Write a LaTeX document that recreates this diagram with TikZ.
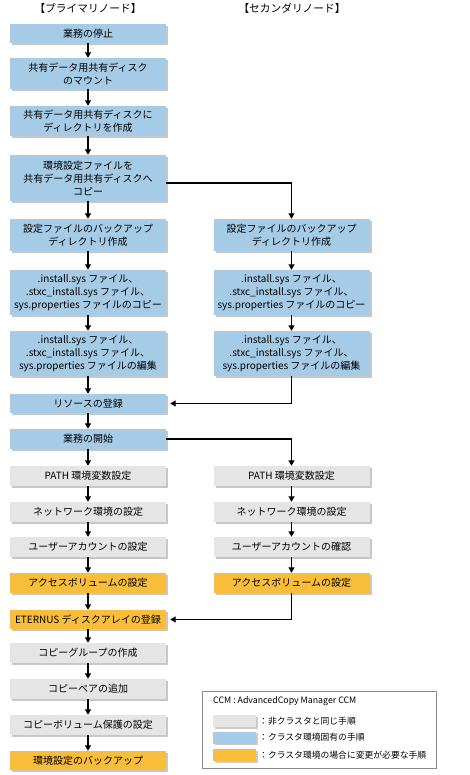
\documentclass[tikz,border=0pt]{standalone}
\usepackage{fontspec}
\setmainfont{Noto Sans CJK JP}
\usetikzlibrary{arrows.meta,shadows}
\definecolor{stepblue}{HTML}{A5CBE6}
\definecolor{steporange}{HTML}{F9BD3C}
\definecolor{stepgray}{HTML}{E5E5E5}
\definecolor{legendframe}{HTML}{8A8A8A}
\tikzset{
  stepbox/.style={minimum width=156pt, inner sep=0pt, align=center,
    font=\fontsize{10pt}{13pt}\selectfont,
    drop shadow={shadow xshift=2pt, shadow yshift=-2pt, fill=black, opacity=0.22}},
  bluebox/.style={stepbox, fill=stepblue},
  graybox/.style={stepbox, fill=stepgray},
  orangebox/.style={stepbox, fill=steporange},
  flow/.style={line width=1.2pt, -{Triangle[width=6pt,length=5.5pt]}},
  hdr/.style={font=\fontsize{10.7pt}{12pt}\selectfont},
  swatch/.style={minimum width=43pt, minimum height=12pt, inner sep=0pt,
    drop shadow={shadow xshift=1.5pt, shadow yshift=-1.5pt, fill=black, opacity=0.2}},
  legtext/.style={anchor=west, inner sep=0pt, font=\fontsize{8.8pt}{10pt}\selectfont}
}
\begin{document}
\begin{tikzpicture}[x=1pt,y=-1pt]
\useasboundingbox (0,0) rectangle (469,775);
\node[hdr] (h1) at (88,8) {【プライマリノード】};
\node[hdr] (h2) at (292,8) {【セカンダリノード】};

\node[bluebox, minimum height=19pt] (b1) at (88,33.5) {業務の停止};
\node[bluebox, minimum height=31pt] (b2) at (88,73.5) {共有データ用共有ディスク\\のマウント};
\node[bluebox, minimum height=30pt] (b3) at (88,121) {共有データ用共有ディスクに\\ディレクトリを作成};
\node[bluebox, minimum height=46pt] (b4) at (88,178) {環境設定ファイルを\\共有データ用共有ディスクへ\\コピー};
\node[bluebox, minimum height=32pt] (b5) at (88,235) {設定ファイルのバックアップ\\ディレクトリ作成};
\node[bluebox, minimum height=45pt] (b6) at (88,292.5) {.install.sys ファイル、\\.stxc\_install.sys ファイル、\\sys.properties ファイルのコピー};
\node[bluebox, minimum height=45pt] (b7) at (88,353.5) {.install.sys ファイル、\\.stxc\_install.sys ファイル、\\sys.properties ファイルの編集};
\node[bluebox, minimum height=19pt] (b8) at (88,403.5) {リソースの登録};
\node[bluebox, minimum height=20pt] (b9) at (88,439) {業務の開始};
\node[graybox, minimum height=20pt] (b10) at (88,476) {PATH 環境変数設定};
\node[graybox, minimum height=20pt] (b11) at (88,512) {ネットワーク環境の設定};
\node[graybox, minimum height=20pt] (b12) at (88,547) {ユーザーアカウントの設定};
\node[orangebox, minimum height=20pt] (b13) at (88,583) {アクセスボリュームの設定};
\node[orangebox, minimum height=19pt] (b14) at (88,619.5) {ETERNUS ディスクアレイの登録};
\node[graybox, minimum height=20pt] (b15) at (88,653) {コピーグループの作成};
\node[graybox, minimum height=20pt] (b16) at (88,689) {コピーペアの追加};
\node[graybox, minimum height=20pt] (b17) at (88,725) {コピーボリューム保護の設定};
\node[orangebox, minimum height=19pt] (b18) at (88,760.5) {環境設定のバックアップ};

\node[bluebox, minimum height=32pt] (r5) at (291.5,235) {設定ファイルのバックアップ\\ディレクトリ作成};
\node[bluebox, minimum height=45pt] (r6) at (291.5,292.5) {.install.sys ファイル、\\.stxc\_install.sys ファイル、\\sys.properties ファイルのコピー};
\node[bluebox, minimum height=45pt] (r7) at (291.5,353.5) {.install.sys ファイル、\\.stxc\_install.sys ファイル、\\sys.properties ファイルの編集};
\node[graybox, minimum height=20pt] (r10) at (291.5,476) {PATH 環境変数設定};
\node[graybox, minimum height=20pt] (r11) at (291.5,512) {ネットワーク環境の設定};
\node[graybox, minimum height=20pt] (r12) at (291.5,547) {ユーザーアカウントの確認};
\node[orangebox, minimum height=20pt] (r13) at (291.5,583) {アクセスボリュームの設定};

\foreach \a/\b in {b1/b2,b2/b3,b3/b4,b4/b5,b5/b6,b6/b7,b7/b8,b8/b9,b9/b10,b10/b11,b11/b12,b12/b13,b13/b14,b14/b15,b15/b16,b16/b17,b17/b18,r5/r6,r6/r7,r10/r11,r11/r12,r12/r13}
  \draw[flow] (\a.south) -- (\b.north);

\draw[flow] ([yshift=-5pt]b4.east) -| (r5.north);
\draw[flow] (r7.south) |- ([xshift=4pt]b8.east);
\draw[flow] (b9.east) -| (r10.north);
\draw[flow] (r13.south) |- ([xshift=4pt]b14.east);

% legend
\node[draw=legendframe, line width=0.8pt, minimum width=234pt, minimum height=77pt, inner sep=0pt] (leg) at (319,729.5) {};
\node[legtext] (lt0) at (213,701.5) {CCM : AdvancedCopy Manager CCM};
\node[swatch, fill=stepgray] (s1) at (234.5,721) {};
\node[swatch, fill=stepblue] (s2) at (234.5,737.5) {};
\node[swatch, fill=steporange] (s3) at (234.5,755) {};
\node[legtext] (lt1) at (259,721) {：非クラスタと同じ手順};
\node[legtext] (lt2) at (259,737.5) {：クラスタ環境固有の手順};
\node[legtext] (lt3) at (259,755) {：クラスタ環境の場合に変更が必要な手順};
\end{tikzpicture}
\end{document}
